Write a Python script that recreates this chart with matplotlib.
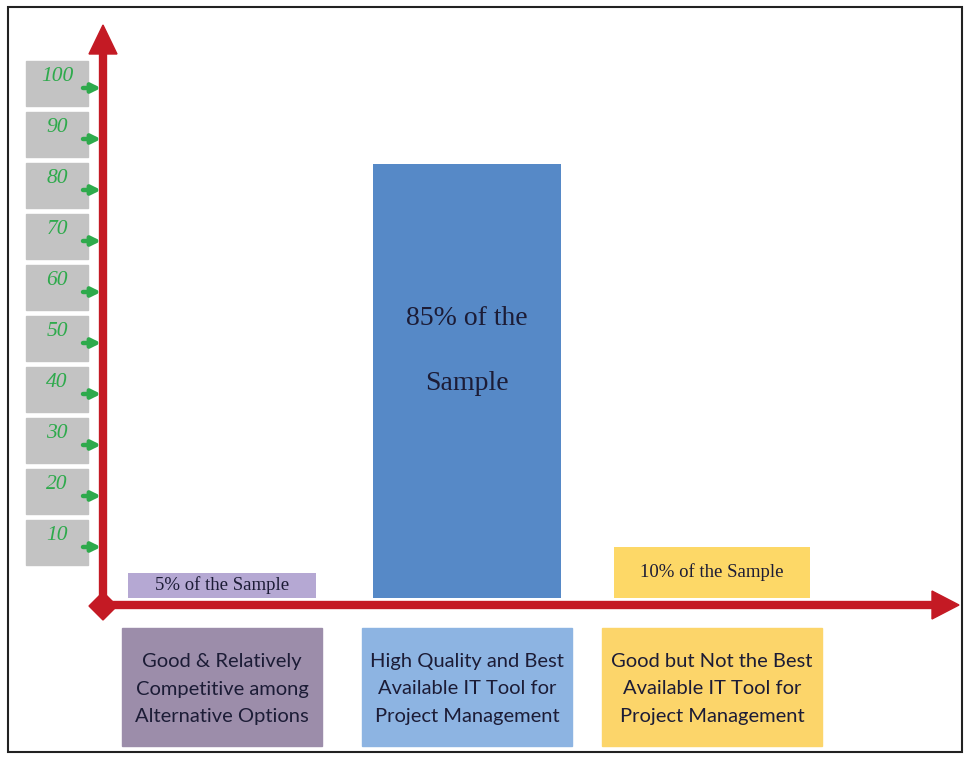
import matplotlib
matplotlib.use("Agg")
import matplotlib.pyplot as plt
import matplotlib.transforms as mtransforms
from matplotlib.patches import Rectangle, Polygon

# ---- data -------------------------------------------------------------
categories = [
    "Good & Relatively\nCompetitive among\nAlternative Options",
    "High Quality and Best\nAvailable IT Tool for\nProject Management",
    "Good but Not the Best\nAvailable IT Tool for\nProject Management",
]
shares = [5, 85, 10]
bar_labels = ["5% of the Sample", "85% of the\nSample", "10% of the Sample"]
tick_values = [10, 20, 30, 40, 50, 60, 70, 80, 90, 100]

# ---- style ------------------------------------------------------------
bar_colors = ["#B5A8D3", "#5689C7", "#FDD867"]
box_colors = ["#9C8DAA", "#8DB4E2", "#FCD56A"]
bar_widths = [0.77, 0.765, 0.80]
box_widths = [0.82, 0.86, 0.90]
RED = "#C41A24"
GREEN = "#2EAA4C"
NAVY = "#1C1C36"
W, H = 964, 762

fig = plt.figure(figsize=(W / 100, H / 100), dpi=100)

# decoration layer in pixel coordinates
deco = fig.add_axes([0, 0, 1, 1])
deco.set_xlim(0, W)
deco.set_ylim(H, 0)
deco.axis("off")

# data layer: value 0 at y=598 px, 100 at y=88 px; categories 245 px apart
ax = fig.add_axes([99.5 / W, (H - 598) / H, 735 / W, 510 / H])
ax.set_xlim(-0.5, 2.5)
ax.set_ylim(0, 100)
ax.patch.set_alpha(0)
ax.axis("off")

# outer frame
deco.add_patch(Rectangle((8, 7), 954, 745, fill=False, ec="#222222", lw=1.5))

xs = list(range(len(categories)))
ax.bar(xs, shares, width=bar_widths, color=bar_colors, zorder=2)

# value labels inside the bars
for i, (v, lab) in enumerate(zip(shares, bar_labels)):
    if v > 50:
        ax.text(i, v * 0.57, lab, ha="center", va="center", fontsize=20,
                family="Liberation Serif", color=NAVY, linespacing=3.1, zorder=3)
    else:
        ax.text(i, v / 2, lab, ha="center", va="center", fontsize=13.5,
                family="Liberation Serif", color=NAVY, zorder=3)

# category boxes under the axis (x from data axes, y in pixels)
cat_tr = mtransforms.blended_transform_factory(ax.transData, deco.transData)
for i, (lab, c, w) in enumerate(zip(categories, box_colors, box_widths)):
    deco.add_patch(Rectangle((i - w / 2, 628), w, 118, color=c, transform=cat_tr,
                             clip_on=False, zorder=2))
    deco.text(i, 689, lab, transform=cat_tr, ha="center", va="center",
              fontsize=14.5, family="Lato", color=NAVY, linespacing=1.76, zorder=3)

# y "ticks": grey boxes with green italic numbers and small arrows
tick_tr = mtransforms.blended_transform_factory(deco.transData, ax.transData)
for v in tick_values:
    deco.add_patch(Rectangle((26, v - 3.6), 62, 8.8, color="#C3C3C3",
                             transform=tick_tr, clip_on=False, zorder=2))
    deco.text(57, v + 2.2, str(v), transform=tick_tr, ha="center", va="center",
              fontsize=15.5, family="Liberation Serif", style="italic",
              color=GREEN, zorder=3)
    deco.annotate("", xy=(101, v), xytext=(83, v), xycoords=tick_tr,
                  textcoords=tick_tr,
                  arrowprops=dict(arrowstyle="-|>", color=GREEN, lw=3.2,
                                  mutation_scale=13, shrinkA=0, shrinkB=0),
                  zorder=4)

# red axes with arrow heads and diamond origin
deco.plot([103, 103], [606, 50], color=RED, lw=6, solid_capstyle="butt", zorder=3)
deco.plot([103, 936], [605, 605], color=RED, lw=6, solid_capstyle="butt", zorder=3)
deco.add_patch(Polygon([(103, 25), (89, 54), (117, 54)], color=RED, zorder=3))
deco.add_patch(Polygon([(959, 605), (932, 591), (932, 619)], color=RED, zorder=3))
deco.add_patch(Polygon([(103, 592), (117, 606), (103, 620), (89, 606)],
                       color=RED, zorder=3))

fig.savefig("out.png", dpi=100)
